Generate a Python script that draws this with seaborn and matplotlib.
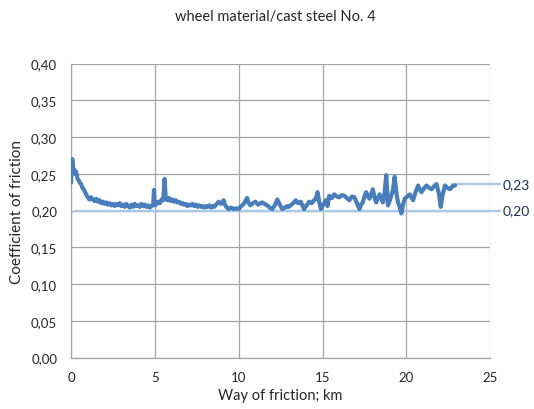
import matplotlib
matplotlib.use("Agg")
import matplotlib.pyplot as plt
import seaborn as sns
import pandas as pd

# friction test, wheel material vs cast steel No. 4
way_km = [
    0.00, 0.05, 0.08, 0.12, 0.18, 0.24, 0.30, 0.38, 0.45, 0.52, 0.60, 0.68, 0.75, 0.82, 0.90,
    1.00, 1.10, 1.20, 1.30, 1.40, 1.50, 1.60, 1.70, 1.80, 1.90, 2.00, 2.10, 2.20, 2.30, 2.40,
    2.50, 2.60, 2.70, 2.80, 2.90, 3.00, 3.10, 3.20, 3.30, 3.40, 3.50, 3.60, 3.70, 3.80, 3.90,
    4.00, 4.10, 4.20, 4.30, 4.40, 4.50, 4.60, 4.70, 4.80, 4.90, 4.95, 5.00, 5.10, 5.20, 5.30,
    5.40, 5.50, 5.58, 5.65, 5.75, 5.85, 5.95, 6.05, 6.15, 6.25, 6.35, 6.45, 6.55, 6.65, 6.75,
    6.85, 6.95, 7.05, 7.15, 7.25, 7.35, 7.45, 7.55, 7.65, 7.75, 7.85, 7.95, 8.05, 8.15, 8.25,
    8.35, 8.45, 8.55, 8.65, 8.80, 8.95, 9.10, 9.20, 9.30, 9.40, 9.55, 9.70, 9.85, 10.00, 10.15,
    10.30, 10.50, 10.60, 10.70, 10.85, 11.00, 11.15, 11.30, 11.40, 11.55, 11.70, 11.85, 12.00,
    12.15, 12.30, 12.45, 12.60, 12.75, 12.90, 13.00, 13.15, 13.30, 13.40, 13.55, 13.70, 13.80,
    13.90, 14.05, 14.20, 14.35, 14.50, 14.60, 14.70, 14.80, 14.90, 15.05, 15.20, 15.30, 15.40,
    15.55, 15.70, 15.85, 16.00, 16.15, 16.30, 16.45, 16.60, 16.75, 16.90, 17.05, 17.20, 17.30,
    17.40, 17.50, 17.60, 17.70, 17.80, 17.90, 18.00, 18.10, 18.20, 18.30, 18.40, 18.50, 18.60,
    18.70, 18.80, 18.85, 18.90, 19.00, 19.10, 19.20, 19.30, 19.40, 19.50, 19.60, 19.70, 19.80,
    19.90, 20.05, 20.20, 20.30, 20.40, 20.55, 20.70, 20.80, 20.90, 21.05, 21.20, 21.35, 21.50,
    21.65, 21.80, 21.95, 22.05, 22.15, 22.30, 22.45, 22.60, 22.75, 22.90,
]
coef = [
    0.238, 0.262, 0.270, 0.258, 0.256, 0.250, 0.253, 0.244, 0.241, 0.238, 0.236, 0.231, 0.229, 0.226, 0.222,
    0.218, 0.215, 0.218, 0.215, 0.213, 0.216, 0.212, 0.214, 0.210, 0.212, 0.209, 0.211, 0.208, 0.210, 0.207,
    0.209, 0.206, 0.209, 0.207, 0.210, 0.206, 0.208, 0.205, 0.209, 0.206, 0.204, 0.208, 0.205, 0.209, 0.206,
    0.207, 0.205, 0.209, 0.206, 0.208, 0.205, 0.207, 0.204, 0.206, 0.208, 0.228, 0.207, 0.209, 0.212, 0.210,
    0.215, 0.214, 0.243, 0.216, 0.214, 0.217, 0.213, 0.215, 0.212, 0.214, 0.211, 0.212, 0.209, 0.210, 0.208,
    0.209, 0.206, 0.208, 0.207, 0.209, 0.206, 0.208, 0.205, 0.207, 0.205, 0.206, 0.204, 0.206, 0.205, 0.207,
    0.204, 0.206, 0.205, 0.208, 0.212, 0.209, 0.214, 0.207, 0.204, 0.202, 0.204, 0.202, 0.203, 0.202, 0.206,
    0.209, 0.217, 0.210, 0.207, 0.210, 0.212, 0.208, 0.210, 0.211, 0.209, 0.207, 0.204, 0.202,
    0.207, 0.215, 0.208, 0.202, 0.204, 0.206, 0.205, 0.208, 0.211, 0.214, 0.210, 0.212, 0.207,
    0.202, 0.207, 0.212, 0.210, 0.214, 0.216, 0.225, 0.212, 0.202, 0.208, 0.214, 0.206, 0.220,
    0.217, 0.222, 0.219, 0.218, 0.221, 0.220, 0.217, 0.214, 0.219, 0.218, 0.210, 0.202, 0.208,
    0.211, 0.219, 0.225, 0.220, 0.216, 0.222, 0.229, 0.218, 0.211, 0.217, 0.222, 0.216, 0.211,
    0.224, 0.248, 0.230, 0.207, 0.213, 0.220, 0.228, 0.246, 0.225, 0.211, 0.205, 0.196, 0.208,
    0.216, 0.219, 0.222, 0.218, 0.214, 0.225, 0.234, 0.229, 0.225, 0.230, 0.234, 0.231, 0.229,
    0.233, 0.236, 0.222, 0.205, 0.220, 0.234, 0.231, 0.229, 0.233, 0.234,
]

# marker lines on the right side
ref_levels = [0.236, 0.200]
ref_starts = [22.7, 0.25]
ref_labels = ["0,23", "0,20"]

x_ticks = [0, 5, 10, 15, 20, 25]
y_ticks = [0.00, 0.05, 0.10, 0.15, 0.20, 0.25, 0.30, 0.35, 0.40]

sns.set_style("white")
plt.rcParams["font.family"] = ["Lato", "DejaVu Sans"]

df = pd.DataFrame({"way": way_km, "cof": coef})

fig = plt.figure(figsize=(5.34, 4.10), dpi=100)
ax = fig.add_axes([0.133, 0.1256, 0.785, 0.717])

grid_col = "#a6a6a6"
ax.set_xlim(0, 25)
ax.set_ylim(0, 0.40)
ax.set_xticks(x_ticks)
ax.set_yticks(y_ticks)
ax.set_yticklabels([f"{v:.2f}".replace(".", ",") for v in y_ticks])
ax.grid(True, color=grid_col, linewidth=0.9)
ax.set_axisbelow(True)
for side in ["top", "right"]:
    ax.spines[side].set_visible(False)
for side in ["left", "bottom"]:
    ax.spines[side].set_color(grid_col)
    ax.spines[side].set_linewidth(0.9)
ax.tick_params(axis="both", colors=grid_col, length=4, width=0.9, labelsize=9.5,
               labelcolor="#262626", pad=6)

for lvl, x0 in zip(ref_levels, ref_starts):
    ax.plot([x0, 25.6], [lvl, lvl], color="#a9c8e8", linewidth=1.7, clip_on=False, zorder=2)

sns.lineplot(data=df, x="way", y="cof", ax=ax, color="#4a7ebb", linewidth=3.0, zorder=3)

for lvl, lab in zip(ref_levels, ref_labels):
    ax.text(25.75, lvl, lab, fontsize=10, color="#1f2d4d", va="center", ha="left")

ax.set_xlabel("Way of friction; km", fontsize=10.5, color="#262626", labelpad=3)
ax.set_ylabel("Coefficient of friction", fontsize=11, color="#262626", labelpad=5)
fig.suptitle("wheel material/cast steel No. 4", x=0.515, y=0.975, fontsize=10.5, color="#262626")

fig.savefig("out.png", dpi=100)
